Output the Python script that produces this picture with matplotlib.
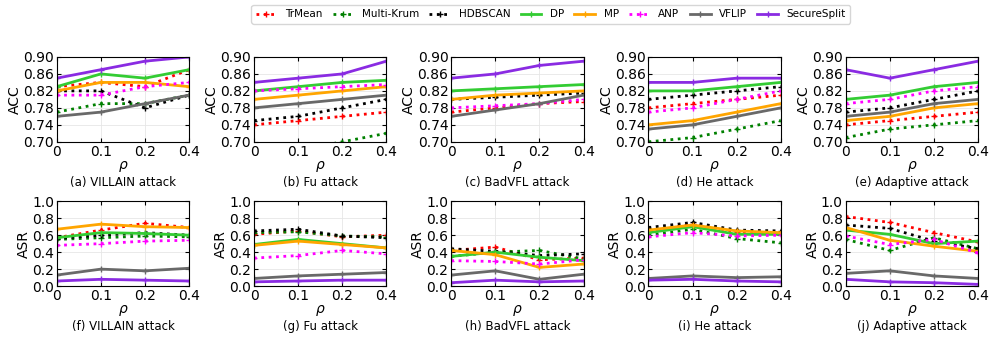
import matplotlib
matplotlib.use('Agg')
import matplotlib.pyplot as plt

rho_labels = ['0', '0.1', '0.2', '0.4']
methods = ['TrMean', 'Multi-Krum', 'HDBSCAN', 'DP', 'MP', 'ANP', 'VFLIP', 'SecureSplit']
captions = ['(a) VILLAIN attack', '(b) Fu attack', '(c) BadVFL attack', '(d) He attack', '(e) Adaptive attack',
            '(f) VILLAIN attack', '(g) Fu attack', '(h) BadVFL attack', '(i) He attack', '(j) Adaptive attack']

# accuracy, one dict per attack
acc_villain = {
    'TrMean': [0.83, 0.84, 0.83, 0.87], 'Multi-Krum': [0.77, 0.79, 0.79, 0.81],
    'HDBSCAN': [0.82, 0.82, 0.78, 0.81], 'DP': [0.83, 0.86, 0.85, 0.87],
    'MP': [0.82, 0.84, 0.84, 0.83], 'ANP': [0.81, 0.81, 0.83, 0.84],
    'VFLIP': [0.76, 0.77, 0.79, 0.81], 'SecureSplit': [0.85, 0.87, 0.89, 0.90]}
acc_fu = {
    'TrMean': [0.74, 0.75, 0.76, 0.77], 'Multi-Krum': [0.66, 0.68, 0.70, 0.72],
    'HDBSCAN': [0.75, 0.76, 0.78, 0.80], 'DP': [0.82, 0.83, 0.84, 0.845],
    'MP': [0.80, 0.81, 0.82, 0.83], 'ANP': [0.82, 0.825, 0.83, 0.835],
    'VFLIP': [0.78, 0.79, 0.80, 0.81], 'SecureSplit': [0.84, 0.85, 0.86, 0.89]}
acc_badvfl = {
    'TrMean': [0.77, 0.78, 0.79, 0.795], 'Multi-Krum': [0.68, 0.685, 0.69, 0.695],
    'HDBSCAN': [0.80, 0.805, 0.81, 0.815], 'DP': [0.82, 0.825, 0.83, 0.835],
    'MP': [0.80, 0.81, 0.815, 0.82], 'ANP': [0.78, 0.785, 0.79, 0.80],
    'VFLIP': [0.76, 0.775, 0.79, 0.81], 'SecureSplit': [0.85, 0.86, 0.88, 0.89]}
acc_he = {
    'TrMean': [0.78, 0.79, 0.80, 0.81], 'Multi-Krum': [0.70, 0.71, 0.73, 0.75],
    'HDBSCAN': [0.80, 0.81, 0.82, 0.83], 'DP': [0.82, 0.82, 0.83, 0.84],
    'MP': [0.74, 0.75, 0.77, 0.79], 'ANP': [0.77, 0.78, 0.80, 0.82],
    'VFLIP': [0.73, 0.74, 0.76, 0.78], 'SecureSplit': [0.84, 0.84, 0.85, 0.85]}
acc_adaptive = {
    'TrMean': [0.74, 0.75, 0.76, 0.77], 'Multi-Krum': [0.71, 0.73, 0.74, 0.75],
    'HDBSCAN': [0.77, 0.78, 0.80, 0.82], 'DP': [0.80, 0.81, 0.83, 0.84],
    'MP': [0.75, 0.76, 0.78, 0.79], 'ANP': [0.79, 0.80, 0.82, 0.83],
    'VFLIP': [0.76, 0.77, 0.79, 0.80], 'SecureSplit': [0.87, 0.85, 0.87, 0.89]}

# attack success rate
asr_villain = {
    'TrMean': [0.57, 0.66, 0.74, 0.69], 'Multi-Krum': [0.55, 0.57, 0.59, 0.58],
    'HDBSCAN': [0.56, 0.60, 0.63, 0.60], 'DP': [0.57, 0.63, 0.62, 0.60],
    'MP': [0.67, 0.73, 0.70, 0.69], 'ANP': [0.48, 0.50, 0.53, 0.54],
    'VFLIP': [0.13, 0.20, 0.18, 0.21], 'SecureSplit': [0.06, 0.08, 0.07, 0.06]}
asr_fu = {
    'TrMean': [0.61, 0.65, 0.58, 0.60], 'Multi-Krum': [0.63, 0.64, 0.59, 0.58],
    'HDBSCAN': [0.65, 0.67, 0.59, 0.57], 'DP': [0.49, 0.55, 0.50, 0.45],
    'MP': [0.48, 0.53, 0.49, 0.45], 'ANP': [0.33, 0.36, 0.42, 0.38],
    'VFLIP': [0.09, 0.12, 0.14, 0.16], 'SecureSplit': [0.05, 0.06, 0.07, 0.07]}
asr_badvfl = {
    'TrMean': [0.42, 0.46, 0.31, 0.33], 'Multi-Krum': [0.35, 0.40, 0.42, 0.32],
    'HDBSCAN': [0.44, 0.41, 0.36, 0.38], 'DP': [0.35, 0.40, 0.34, 0.30],
    'MP': [0.42, 0.37, 0.22, 0.26], 'ANP': [0.30, 0.29, 0.26, 0.31],
    'VFLIP': [0.13, 0.18, 0.08, 0.14], 'SecureSplit': [0.04, 0.07, 0.05, 0.06]}
asr_he = {
    'TrMean': [0.65, 0.73, 0.64, 0.62], 'Multi-Krum': [0.60, 0.67, 0.56, 0.51],
    'HDBSCAN': [0.69, 0.75, 0.66, 0.65], 'DP': [0.63, 0.70, 0.61, 0.61],
    'MP': [0.66, 0.72, 0.65, 0.63], 'ANP': [0.58, 0.63, 0.59, 0.60],
    'VFLIP': [0.09, 0.12, 0.10, 0.11], 'SecureSplit': [0.07, 0.08, 0.06, 0.05]}
asr_adaptive = {
    'TrMean': [0.82, 0.75, 0.63, 0.52], 'Multi-Krum': [0.55, 0.42, 0.57, 0.44],
    'HDBSCAN': [0.72, 0.68, 0.53, 0.44], 'DP': [0.66, 0.61, 0.50, 0.53],
    'MP': [0.69, 0.54, 0.47, 0.41], 'ANP': [0.59, 0.49, 0.55, 0.39],
    'VFLIP': [0.15, 0.18, 0.12, 0.09], 'SecureSplit': [0.08, 0.05, 0.04, 0.02]}

styles = {
    'TrMean': ('red', ':'), 'Multi-Krum': ('green', ':'), 'HDBSCAN': ('black', ':'),
    'DP': ('#33cc33', '-'), 'MP': ('orange', '-'), 'ANP': ('magenta', ':'),
    'VFLIP': ('dimgray', '-'), 'SecureSplit': ('blueviolet', '-')}

panels = [acc_villain, acc_fu, acc_badvfl, acc_he, acc_adaptive,
          asr_villain, asr_fu, asr_badvfl, asr_he, asr_adaptive]

fig, axes = plt.subplots(2, 5, figsize=(9.96, 3.41), dpi=100)
fig.subplots_adjust(left=0.057, right=0.982, top=0.833, bottom=0.161, wspace=0.49, hspace=0.70)

x = range(len(rho_labels))
for i, ax in enumerate(axes.flat):
    data = panels[i]
    for m in methods:
        c, ls = styles[m]
        ax.plot(x, data[m], color=c, linestyle=ls, linewidth=2, marker='+', markersize=4, label=m)
    ax.set_xlim(0, 3)
    ax.set_xticks(list(x))
    ax.set_xticklabels(rho_labels)
    if i < 5:
        ax.set_ylim(0.70, 0.90)
        ax.set_yticks([0.70, 0.74, 0.78, 0.82, 0.86, 0.90])
        ax.set_yticklabels(['0.70', '0.74', '0.78', '0.82', '0.86', '0.90'])
        ax.set_ylabel('ACC', fontsize=10, labelpad=1)
    else:
        ax.set_ylim(0, 1.0)
        ax.set_yticks([0, 0.2, 0.4, 0.6, 0.8, 1.0])
        ax.set_yticklabels(['0.0', '0.2', '0.4', '0.6', '0.8', '1.0'])
        ax.set_ylabel('ASR', fontsize=10, labelpad=1)
    ax.tick_params(direction='in', labelsize=10, length=3, pad=2, top=True, right=True)
    ax.grid(True, color='#e6e6e6', linewidth=0.6)
    ax.set_xlabel(r'$\rho$', fontsize=10, labelpad=0)
    ax.text(0.5, -0.40, captions[i], transform=ax.transAxes, ha='center', va='top', fontsize=8.5)

handles, labels = axes[0, 0].get_legend_handles_labels()
fig.legend(handles, labels, loc='upper center', bbox_to_anchor=(0.553, 1.0), ncol=8,
           fontsize=7.5, frameon=True, handlelength=2.0, columnspacing=1.0, handletextpad=0.8,
           borderpad=0.4)

plt.savefig('out.png', dpi=100)
